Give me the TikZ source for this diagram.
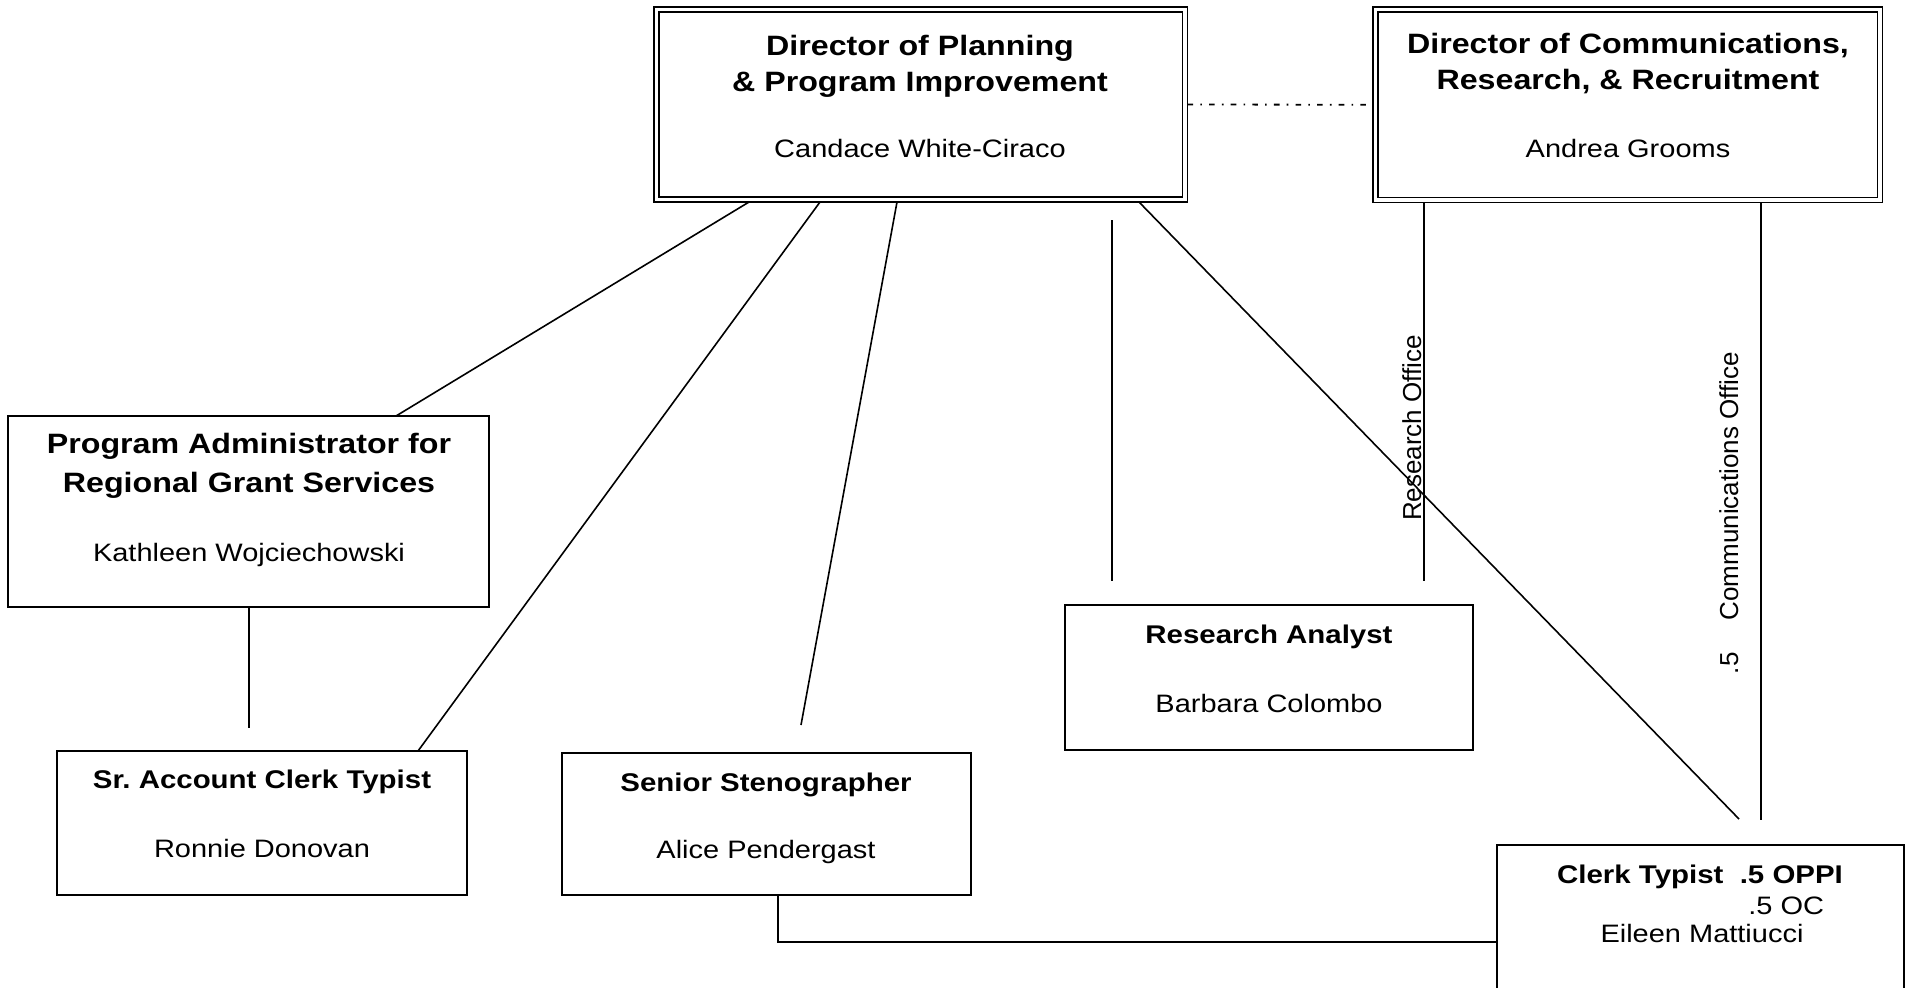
\documentclass[tikz,border=0pt]{standalone}
\usepackage{fontspec}
\setmainfont{Liberation Sans}[FakeStretch=1.15]
\newfontfamily\sidefont{Liberation Sans}
\usetikzlibrary{calc}

\begin{document}
\begin{tikzpicture}[x=0.5pt,y=-0.5pt,
  box/.style={draw, line width=0.9pt, inner sep=0pt, outer sep=0pt, anchor=north west},
  dbox/.style={draw, line width=0.7pt, double, double distance=1.8pt,
               inner sep=0pt, outer sep=0pt, anchor=north west},
  link/.style={line width=0.8pt},
  liaison/.style={line width=0.9pt, dash pattern=on 2.8pt off 3.6pt on 0.8pt off 3.6pt},
  headbig/.style={anchor=base, inner sep=0pt, font=\fontsize{14}{16}\selectfont\bfseries},
  headsmall/.style={anchor=base, inner sep=0pt, font=\fontsize{12.8}{15}\selectfont\bfseries},
  person/.style={anchor=base, inner sep=0pt, font=\fontsize{12.6}{15}\selectfont},
  office/.style={anchor=base, rotate=90, inner sep=0pt, font=\sidefont\fontsize{13}{15}\selectfont}
]
% canvas in pixel units, origin top left
\fill[white] (0,0) rectangle (1910,987);
\useasboundingbox (0,0) rectangle (1910,987);

% ---- boxes ----
\node[dbox, minimum width=264.25pt, minimum height=95pt]  (dp)    at (656.5,9.5) {};
\node[dbox, minimum width=252.25pt, minimum height=95.25pt] (dc)  at (1375.5,9.5) {};
\node[box,  minimum width=240.5pt,  minimum height=95.5pt] (pa)   at (8,416) {};
\node[box,  minimum width=205pt,    minimum height=72pt]   (sr)   at (57,751) {};
\node[box,  minimum width=204.5pt,  minimum height=71pt]   (sten) at (562,753) {};
\node[box,  minimum width=204pt,    minimum height=72.5pt] (ra)   at (1065,605) {};
\node[box,  minimum width=203.5pt,  minimum height=80pt]   (clerk) at (1497,845) {};

% ---- box texts ----
\node[headbig] (dpT1) at (920,55) {Director of Planning};
\node[headbig] (dpT2) at (920,91) {\& Program Improvement};
\node[person]  (dpN)  at (920,157) {Candace White-Ciraco};

\node[headbig] (dcT1) at (1628,53) {Director of Communications,};
\node[headbig] (dcT2) at (1628,89) {Research, \& Recruitment};
\node[person]  (dcN)  at (1628,157) {Andrea Grooms};

\node[headbig] (paT1) at (249,453) {Program Administrator for};
\node[headbig] (paT2) at (249,492) {Regional Grant Services};
\node[person]  (paN)  at (249,561) {Kathleen Wojciechowski};

\node[headsmall] (srT) at (262,788) {Sr.\ Account Clerk Typist};
\node[person]    (srN) at (262,857) {Ronnie Donovan};

\node[headsmall] (stenT) at (766,791) {Senior Stenographer};
\node[person]    (stenN) at (766,858) {Alice Pendergast};

\node[headsmall] (raT) at (1269,643) {Research Analyst};
\node[person]    (raN) at (1269,712) {Barbara Colombo};

\node[headsmall] (clerkT) at (1700,883) {Clerk Typist\ \ .5 OPPI};
\node[person, anchor=base west] (clerkS) at (1748,914) {.5 OC};
\node[person]    (clerkN) at (1702,942) {Eileen Mattiucci};

% ---- office labels ----
\node[office] (resLbl) at (1421,428) {Research Office};
\node[office] (comLbl) at (1738,513) {.5\hspace{16pt}Communications Office};

% ---- free line ends ----
\coordinate (stenTop) at ($(sten.north west)+(239,-28)$);
\coordinate (raTop)   at ($(ra.north west)+(47,-385)$);
\coordinate (raLow)   at ($(ra.north west)+(47,-24)$);
\coordinate (resLow)  at ($(ra.north east)+(-49,-24)$);
\coordinate (comLow)  at ($(clerk.north west)+(264,-25)$);
\coordinate (clerkTop) at ($(clerk.north west)+(242,-26)$);
\coordinate (srTop)   at ($(sr.north west)+(192,-23)$);

% ---- connectors ----
\draw[link] ($(dp.south west)+(92.5,2.5)$)  -- ($(pa.north west)+(388,0)$);
\draw[link] ($(dp.south west)+(163.5,2.5)$) -- ($(sr.north west)+(361,0)$);
\draw[link] ($(dp.south west)+(240.5,2.5)$) -- (stenTop);
\draw[link] (raTop) -- (raLow);
\draw[link] ($(dp.south west)+(482.5,2.5)$) -- (clerkTop);
\draw[link] ($(dc.south west)+(48.5,3)$) -- (resLow);
\draw[link] ($(dc.south west)+(385.5,3)$) -- (comLow);
\draw[link] ($(pa.south west)+(241,0)$) -- (srTop);
\draw[link] ($(sten.south west)+(216,0)$) |- ($(clerk.north west)+(0,97)$);
\draw[liaison] ($(dp.east)+(2.5,0)$) -- ($(dc.west)+(-2.5,0)$);
\end{tikzpicture}
\end{document}
